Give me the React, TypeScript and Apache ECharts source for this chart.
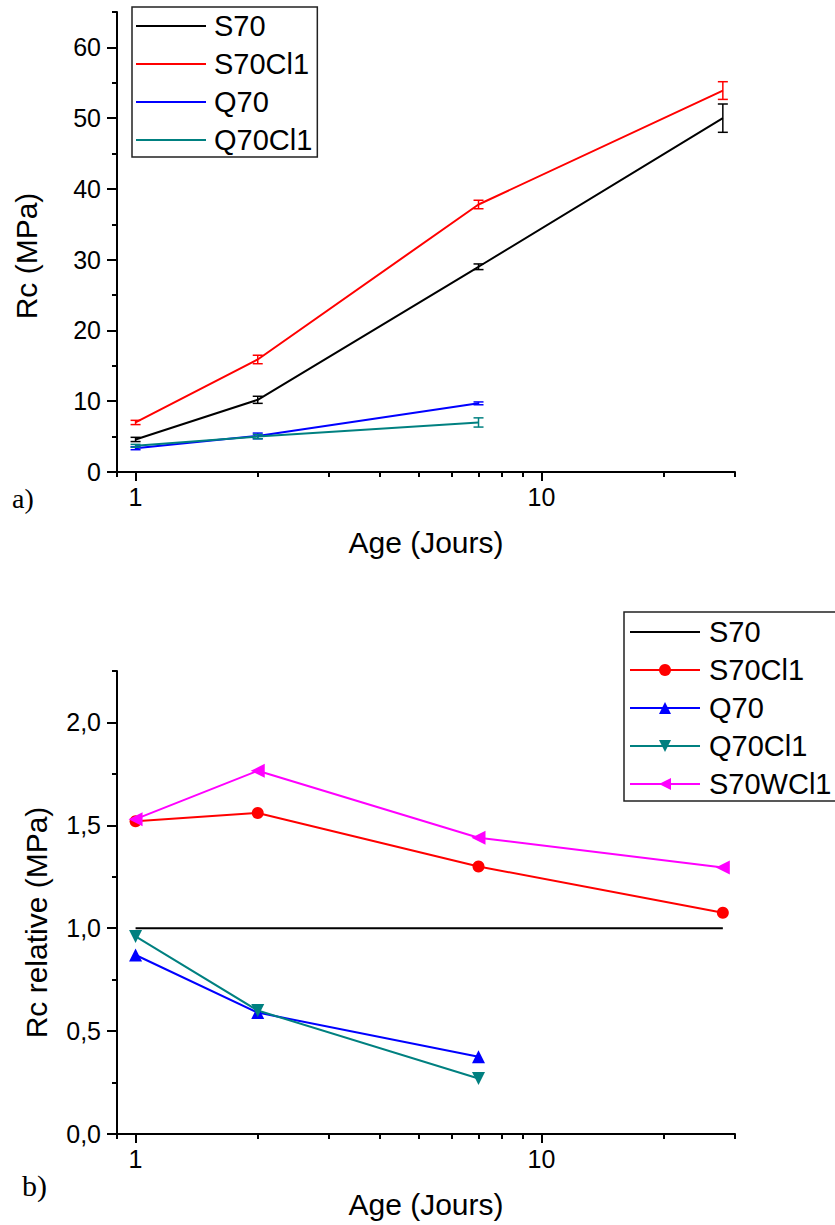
import React, { useEffect, useRef } from 'react';
import * as echarts from 'echarts';

// ---------- data ----------
const ages = [1, 2, 7, 28];

const seriesNames = ['S70', 'S70Cl1', 'Q70', 'Q70Cl1', 'S70WCl1'];
const seriesColors = ['#000000', '#ff0000', '#0000ff', '#008080', '#ff00ff'];

// a) compressive strength (MPa)
const rcS70 = [4.6, 10.2, 29.0, 50.0];
const rcS70Cl1 = [7.0, 15.9, 37.8, 53.9];
const rcQ70 = [3.35, 5.1, 9.7];
const rcQ70Cl1 = [3.7, 5.0, 7.0];
// error (+/-)
const errS70 = [0.3, 0.5, 0.4, 2.0];
const errS70Cl1 = [0.3, 0.6, 0.6, 1.25];
const errQ70 = [0.2, 0.4, 0.2];
const errQ70Cl1 = [0.2, 0.3, 0.65];

// b) relative strength
const relS70 = [1, 1, 1, 1];
const relS70Cl1 = [1.52, 1.56, 1.3, 1.075];
const relQ70 = [0.87, 0.59, 0.375];
const relQ70Cl1 = [0.96, 0.6, 0.27];
const relS70WCl1 = [1.53, 1.765, 1.44, 1.295];

// axes ticks
const xMajorTicks = [1, 10];
const xMinorTicks = [0.9, 2, 3, 4, 5, 6, 7, 8, 9, 20, 30];
const yTicksA = [0, 10, 20, 30, 40, 50, 60];
const yTicksB = [0, 0.5, 1, 1.5, 2];

const SANS = '"Liberation Sans", Arial, Helvetica, sans-serif';
const SERIF = '"Liberation Serif", "Times New Roman", serif';

const pts = (vals: number[]) => vals.map((v, i) => [ages[i], v]);
const errPts = (vals: number[], errs: number[]) =>
  vals.map((v, i) => [ages[i], v - errs[i], v + errs[i]]);

const makeXAxes = () => [
  {
    type: 'log',
    logBase: 10,
    min: 0.9,
    max: 30,
    position: 'bottom',
    axisLine: { show: true, onZero: false, lineStyle: { color: '#000', width: 2 } },
    axisTick: { show: true, customValues: xMajorTicks, length: 9, lineStyle: { color: '#000', width: 2 } },
    axisLabel: { customValues: xMajorTicks, margin: 12, color: '#000', fontSize: 25, fontFamily: SANS },
    splitLine: { show: false },
    name: 'Age (Jours)',
    nameLocation: 'middle',
    nameGap: 55,
    nameTextStyle: { fontSize: 30, color: '#000', fontFamily: SANS },
  },
  {
    type: 'log',
    logBase: 10,
    min: 0.9,
    max: 30,
    position: 'bottom',
    offset: 0,
    axisLine: { show: false },
    axisTick: { show: true, customValues: xMinorTicks, length: 5, lineStyle: { color: '#000', width: 2 } },
    axisLabel: { show: false },
    splitLine: { show: false },
  },
];

const errorSeries = (data: number[][], color: string) => ({
  type: 'custom',
  xAxisIndex: 0,
  yAxisIndex: 0,
  z: 5,
  data,
  encode: { x: 0, y: [1, 2] },
  renderItem: (params: any, api: any) => {
    const x = api.value(0);
    const lo = api.coord([x, api.value(1)]);
    const hi = api.coord([x, api.value(2)]);
    const w = 5;
    const st = { stroke: color, lineWidth: 1.5 };
    return {
      type: 'group',
      children: [
        { type: 'line', shape: { x1: lo[0], y1: lo[1], x2: hi[0], y2: hi[1] }, style: st },
        { type: 'line', shape: { x1: lo[0] - w, y1: lo[1], x2: lo[0] + w, y2: lo[1] }, style: st },
        { type: 'line', shape: { x1: hi[0] - w, y1: hi[1], x2: hi[0] + w, y2: hi[1] }, style: st },
      ],
    };
  },
});

const lineSeries = (i: number, vals: number[], symbol: string, symbolSize = 12) => ({
  type: 'line',
  name: seriesNames[i],
  data: pts(vals),
  xAxisIndex: 0,
  yAxisIndex: 0,
  symbol,
  symbolSize,
  showSymbol: symbol !== 'none',
  color: seriesColors[i],
  itemStyle: { color: seriesColors[i] },
  lineStyle: { color: seriesColors[i], width: 2 },
  z: 3,
});

const noSymbolLegend = (name: string) => ({
  name,
  itemStyle: { color: 'rgba(0,0,0,0)', borderWidth: 0, opacity: 0 },
});

const optionA: any = {
  animation: false,
  backgroundColor: '#fff',
  grid: { left: 117, top: 12, width: 618, height: 460 },
  legend: {
    data: seriesNames.slice(0, 4).map(noSymbolLegend),
    orient: 'vertical',
    left: 132,
    top: 7,
    itemWidth: 70,
    itemHeight: 14,
    itemGap: 8,
    padding: [4, 5, 2, 3],
    borderColor: '#222',
    borderWidth: 1.5,
    textStyle: { fontSize: 29, lineHeight: 30, color: '#000', fontFamily: SANS, padding: [0, 0, 0, 3] },
  },
  xAxis: makeXAxes(),
  yAxis: [
    {
      type: 'value',
      min: 0,
      max: 65,
      interval: 10,
      position: 'left',
      axisLine: { show: true, onZero: false, lineStyle: { color: '#000', width: 2 } },
      axisTick: { show: true, customValues: yTicksA, length: 10, lineStyle: { color: '#000', width: 2 } },
      axisLabel: { customValues: yTicksA, margin: 16, color: '#000', fontSize: 25, fontFamily: SANS },
      splitLine: { show: false },
      name: 'Rc (MPa)',
      nameLocation: 'middle',
      nameGap: 76,
      nameTextStyle: { fontSize: 30, color: '#000', fontFamily: SANS, padding: [0, 28, 0, 0] },
    },
    {
      type: 'value',
      min: 0,
      max: 65,
      interval: 5,
      position: 'left',
      offset: 0,
      axisLine: { show: false },
      axisTick: { show: true, length: 5, lineStyle: { color: '#000', width: 2 } },
      axisLabel: { show: false },
      splitLine: { show: false },
    },
  ],
  graphic: [
    { type: 'text', left: 12, top: 484, style: { text: 'a)', font: `28px ${SERIF}`, fill: '#000' } },
  ],
  series: [
    lineSeries(0, rcS70, 'none'),
    lineSeries(1, rcS70Cl1, 'none'),
    lineSeries(2, rcQ70, 'none'),
    lineSeries(3, rcQ70Cl1, 'none'),
    errorSeries(errPts(rcS70, errS70), seriesColors[0]),
    errorSeries(errPts(rcS70Cl1, errS70Cl1), seriesColors[1]),
    errorSeries(errPts(rcQ70, errQ70), seriesColors[2]),
    errorSeries(errPts(rcQ70Cl1, errQ70Cl1), seriesColors[3]),
  ],
};

const TRI_DOWN = 'path://M0,0 L10,0 L5,9 Z';
const TRI_LEFT = 'path://M9,0 L9,10 L0,5 Z';

const optionB: any = {
  animation: false,
  backgroundColor: '#fff',
  grid: { left: 117, top: 91, width: 618, height: 463 },
  legend: {
    data: [noSymbolLegend(seriesNames[0]), ...seriesNames.slice(1)],
    orient: 'vertical',
    left: 624,
    top: 32,
    itemWidth: 70,
    itemHeight: 15,
    itemGap: 8,
    padding: [5, 5, 2, 5],
    borderColor: '#222',
    borderWidth: 1.5,
    textStyle: { fontSize: 29, lineHeight: 30, color: '#000', fontFamily: SANS, padding: [0, 0, 0, 4] },
  },
  xAxis: makeXAxes(),
  yAxis: [
    {
      type: 'value',
      min: 0,
      max: 2.25,
      interval: 0.25,
      position: 'left',
      axisLine: { show: true, onZero: false, lineStyle: { color: '#000', width: 2 } },
      axisTick: { show: true, customValues: yTicksB, length: 10, lineStyle: { color: '#000', width: 2 } },
      axisLabel: {
        customValues: yTicksB,
        margin: 16,
        color: '#000',
        fontSize: 25,
        fontFamily: SANS,
        formatter: (v: number) => v.toFixed(1).replace('.', ','),
      },
      splitLine: { show: false },
      name: 'Rc relative (MPa)',
      nameLocation: 'middle',
      nameGap: 66,
      nameTextStyle: { fontSize: 30, color: '#000', fontFamily: SANS, padding: [0, 40, 0, 0] },
    },
    {
      type: 'value',
      min: 0,
      max: 2.25,
      interval: 0.25,
      position: 'left',
      offset: 0,
      axisLine: { show: false },
      axisTick: { show: true, length: 5, lineStyle: { color: '#000', width: 2 } },
      axisLabel: { show: false },
      splitLine: { show: false },
    },
  ],
  graphic: [
    { type: 'text', left: 22, top: 590, style: { text: 'b)', font: `30px ${SERIF}`, fill: '#000' } },
  ],
  series: [
    lineSeries(0, relS70, 'none'),
    lineSeries(1, relS70Cl1, 'circle', 12),
    lineSeries(2, relQ70, 'triangle', 13),
    lineSeries(3, relQ70Cl1, TRI_DOWN, 13),
    lineSeries(4, relS70WCl1, TRI_LEFT, 14),
  ],
};

function Chart({ option, top, height }: { option: any; top: number; height: number }) {
  const ref = useRef<HTMLDivElement>(null);
  useEffect(() => {
    if (!ref.current) return;
    const chart = echarts.init(ref.current, undefined, { renderer: 'svg' });
    chart.setOption(option);
    return () => chart.dispose();
  }, [option]);
  return (
    <div
      ref={ref}
      style={{ position: 'absolute', left: 0, top, width: 835, height }}
    />
  );
}

export default function App() {
  return (
    <div style={{ position: 'absolute', left: 0, top: 0, width: 835, height: 1225, background: '#fff' }}>
      <Chart option={optionA} top={0} height={580} />
      <Chart option={optionB} top={580} height={645} />
    </div>
  );
}
